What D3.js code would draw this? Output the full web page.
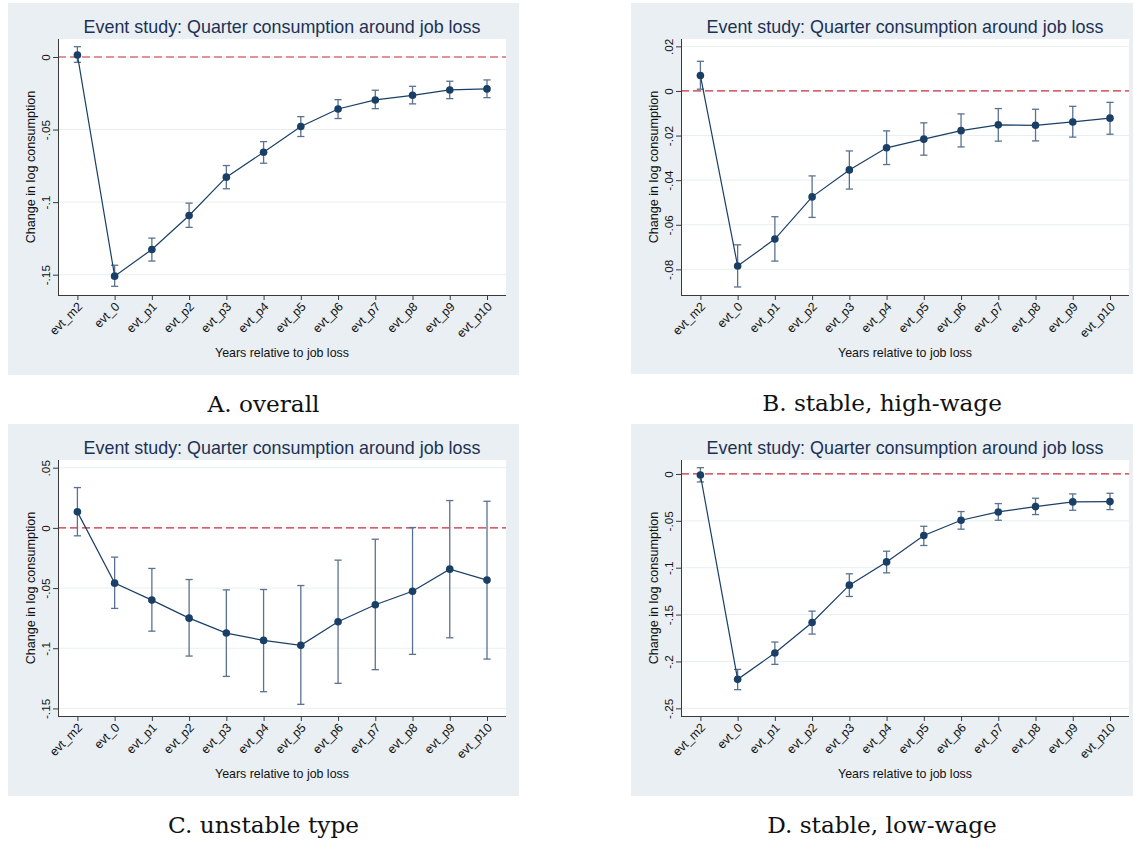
<!DOCTYPE html>
<html>
<head>
<meta charset="utf-8">
<script src="https://cdn.jsdelivr.net/npm/d3@7"></script>
<style>
  html, body { margin: 0; padding: 0; background: #ffffff; }
  svg { display: block; }
</style>
</head>
<body>
<div id="chart"></div>
<script>
const categories = ["evt_m2", "evt_0", "evt_p1", "evt_p2", "evt_p3", "evt_p4", "evt_p5", "evt_p6", "evt_p7", "evt_p8", "evt_p9", "evt_p10"];

// A. overall
const overallEst = [0.0014, -0.151, -0.1326, -0.1092, -0.0828, -0.0656, -0.0479, -0.0358, -0.0296, -0.0264, -0.0227, -0.022];
const overallLo = [-0.0037, -0.158, -0.1406, -0.1174, -0.0908, -0.0732, -0.0548, -0.0424, -0.0356, -0.0323, -0.0287, -0.028];
const overallHi = [0.0071, -0.1435, -0.1248, -0.1007, -0.0748, -0.0583, -0.0411, -0.0294, -0.0229, -0.0202, -0.0167, -0.0158];
const overallTicks = [0, -0.05, -0.1, -0.15];

// B. stable, high-wage
const highEst = [0.0069, -0.0785, -0.0664, -0.0475, -0.0354, -0.0255, -0.0216, -0.0178, -0.0152, -0.0154, -0.0139, -0.0122];
const highLo = [0.0008, -0.0879, -0.0763, -0.0567, -0.044, -0.033, -0.0288, -0.0251, -0.0225, -0.0224, -0.0207, -0.0194];
const highHi = [0.0133, -0.069, -0.0564, -0.0381, -0.0269, -0.0179, -0.0143, -0.0103, -0.0079, -0.0082, -0.0069, -0.0051];
const highTicks = [0.02, 0, -0.02, -0.04, -0.06, -0.08];

// C. unstable type
const unstableEst = [0.0133, -0.0459, -0.06, -0.075, -0.0874, -0.0935, -0.0976, -0.078, -0.0639, -0.0526, -0.0343, -0.0434];
const unstableLo = [-0.0066, -0.0669, -0.0858, -0.1065, -0.1234, -0.1361, -0.1466, -0.1292, -0.1178, -0.1051, -0.0913, -0.109];
const unstableHi = [0.0335, -0.0243, -0.0337, -0.0429, -0.0515, -0.0512, -0.0479, -0.0268, -0.0094, 0.0003, 0.0227, 0.0221];
const unstableTicks = [0.05, 0, -0.05, -0.1, -0.15];

// D. stable, low-wage
const lowEst = [-0.0011, -0.2191, -0.191, -0.1584, -0.1186, -0.0938, -0.0657, -0.0494, -0.0405, -0.0348, -0.0298, -0.0295];
const lowLo = [-0.0085, -0.2301, -0.2031, -0.1708, -0.1307, -0.1055, -0.0763, -0.0589, -0.0494, -0.0433, -0.0387, -0.038];
const lowHi = [0.0067, -0.2085, -0.1793, -0.1463, -0.1065, -0.0824, -0.0558, -0.0401, -0.0316, -0.0259, -0.0213, -0.0206];
const lowTicks = [0, -0.05, -0.1, -0.15, -0.2, -0.25];

const palette = {
  bg: "#e9eff3",
  plot: "#ffffff",
  grid: "#e8eff1",
  navy: "#1a3f66",
  ci: "#5a7290",
  zero: "#cc2f42",
  title: "#1d3153",
  axis: "#3a3a3a",
  ink: "#111111"
};

const panels = [
  { x: 8, y: 3, w: 511, h: 372, caption: "A. overall", est: overallEst, lo: overallLo, hi: overallHi, ticks: overallTicks, domain: [-0.164, 0.0124] },
  { x: 631, y: 3, w: 502, h: 371, caption: "B. stable, high-wage", est: highEst, lo: highLo, hi: highHi, ticks: highTicks, domain: [-0.0915, 0.0233] },
  { x: 8, y: 424, w: 511, h: 372, caption: "C. unstable type", est: unstableEst, lo: unstableLo, hi: unstableHi, ticks: unstableTicks, domain: [-0.1563, 0.0564] },
  { x: 631, y: 424, w: 502, h: 372, caption: "D. stable, low-wage", est: lowEst, lo: lowLo, hi: lowHi, ticks: lowTicks, domain: [-0.2582, 0.0149] }
];

const sans = "'Liberation Sans', Arial, Helvetica, sans-serif";

// Stata style: 0, .02, -.05
function stataFormat(v) {
  if (Math.abs(v) < 1e-9) return "0";
  const body = String(+Math.abs(v).toFixed(4)).replace(/^0\./, ".");
  return (v < 0 ? "-" : "") + body;
}

function drawPanel(svg, p) {
  const g = svg.append("g").attr("transform", `translate(${p.x},${p.y})`);
  const plot = { left: 50, right: 498, top: 36, bottom: 292 };

  g.append("rect")
    .attr("width", p.w)
    .attr("height", p.h)
    .attr("fill", palette.bg);

  g.append("rect")
    .attr("x", plot.left)
    .attr("y", plot.top)
    .attr("width", plot.right - plot.left)
    .attr("height", plot.bottom - plot.top)
    .attr("fill", palette.plot);

  const x = d3.scalePoint().domain(categories).range([69.4, 479]);
  const y = d3.scaleLinear().domain(p.domain).range([plot.bottom, plot.top]);

  // grid
  g.append("g")
    .selectAll("line")
    .data(p.ticks)
    .join("line")
    .attr("x1", plot.left)
    .attr("x2", plot.right)
    .attr("y1", (d) => y(d))
    .attr("y2", (d) => y(d))
    .attr("stroke", palette.grid)
    .attr("stroke-width", 1);

  // zero reference line
  g.append("line")
    .attr("x1", plot.left)
    .attr("x2", plot.right)
    .attr("y1", y(0))
    .attr("y2", y(0))
    .attr("stroke", palette.zero)
    .attr("stroke-width", 1.2)
    .attr("stroke-dasharray", "8,4");

  // y axis
  const yAxis = g.append("g")
    .attr("transform", `translate(${plot.left},0)`)
    .call(d3.axisLeft(y).tickValues(p.ticks).tickSize(5).tickFormat(stataFormat));
  yAxis.select(".domain").attr("stroke", palette.axis).attr("d", `M0.5,${plot.top}V${plot.bottom}`);
  yAxis.selectAll(".tick line").attr("stroke", palette.axis);
  yAxis.selectAll(".tick text")
    .attr("x", null)
    .attr("dy", null)
    .attr("transform", "translate(-8,0) rotate(-90)")
    .attr("text-anchor", "middle")
    .attr("dominant-baseline", "auto")
    .attr("fill", palette.ink)
    .attr("font-family", sans)
    .attr("font-size", 11.8);

  // x axis
  const xAxis = g.append("g")
    .attr("transform", `translate(0,${plot.bottom})`)
    .call(d3.axisBottom(x).tickSize(5));
  xAxis.select(".domain").attr("stroke", palette.axis).attr("d", `M${plot.left},0.5H${plot.right}`);
  xAxis.selectAll(".tick line").attr("stroke", palette.axis);
  xAxis.selectAll(".tick text")
    .attr("y", null)
    .attr("dy", null)
    .attr("transform", "translate(3,10) rotate(-45)")
    .attr("text-anchor", "end")
    .attr("dominant-baseline", "middle")
    .attr("fill", palette.ink)
    .attr("font-family", sans)
    .attr("font-size", 12.3);

  const rows = categories.map((c, i) => ({ c, est: p.est[i], lo: p.lo[i], hi: p.hi[i] }));

  // confidence intervals
  const ci = g.append("g").attr("stroke", palette.ci).attr("stroke-width", 1.3);
  ci.selectAll(".bar")
    .data(rows)
    .join("line")
    .attr("x1", (d) => x(d.c))
    .attr("x2", (d) => x(d.c))
    .attr("y1", (d) => y(d.lo))
    .attr("y2", (d) => y(d.hi));
  ["lo", "hi"].forEach((k) => {
    ci.selectAll(`.cap-${k}`)
      .data(rows)
      .join("line")
      .attr("x1", (d) => x(d.c) - 3.6)
      .attr("x2", (d) => x(d.c) + 3.6)
      .attr("y1", (d) => y(d[k]))
      .attr("y2", (d) => y(d[k]));
  });

  // connected estimates
  g.append("path")
    .datum(rows)
    .attr("fill", "none")
    .attr("stroke", palette.navy)
    .attr("stroke-width", 1.2)
    .attr("d", d3.line().x((d) => x(d.c)).y((d) => y(d.est)));

  g.append("g")
    .selectAll("circle")
    .data(rows)
    .join("circle")
    .attr("cx", (d) => x(d.c))
    .attr("cy", (d) => y(d.est))
    .attr("r", 3.8)
    .attr("fill", palette.navy);

  // titles
  g.append("text")
    .attr("x", (plot.left + plot.right) / 2)
    .attr("y", 29.5)
    .attr("text-anchor", "middle")
    .attr("fill", palette.title)
    .attr("font-family", sans)
    .attr("font-size", 17.9)
    .text("Event study: Quarter consumption around job loss");

  g.append("text")
    .attr("transform", `translate(27,${(plot.top + plot.bottom) / 2}) rotate(-90)`)
    .attr("text-anchor", "middle")
    .attr("fill", palette.ink)
    .attr("font-family", sans)
    .attr("font-size", 12.6)
    .text("Change in log consumption");

  g.append("text")
    .attr("x", (plot.left + plot.right) / 2)
    .attr("y", 353.5)
    .attr("text-anchor", "middle")
    .attr("fill", palette.ink)
    .attr("font-family", sans)
    .attr("font-size", 12.4)
    .text("Years relative to job loss");

  // caption below panel
  svg.append("text")
    .attr("x", p.x + p.w / 2)
    .attr("y", p.y + p.h + 37)
    .attr("text-anchor", "middle")
    .attr("fill", "#111111")
    .attr("font-family", "'DejaVu Serif', 'Liberation Serif', serif")
    .attr("font-size", 23.2)
    .text(p.caption);
}

const svg = d3.select("#chart")
  .append("svg")
  .attr("width", 1133)
  .attr("height", 842)
  .attr("viewBox", "0 0 1133 842");

svg.append("rect").attr("width", 1133).attr("height", 842).attr("fill", "#ffffff");

panels.forEach((p) => drawPanel(svg, p));
</script>
</body>
</html>
